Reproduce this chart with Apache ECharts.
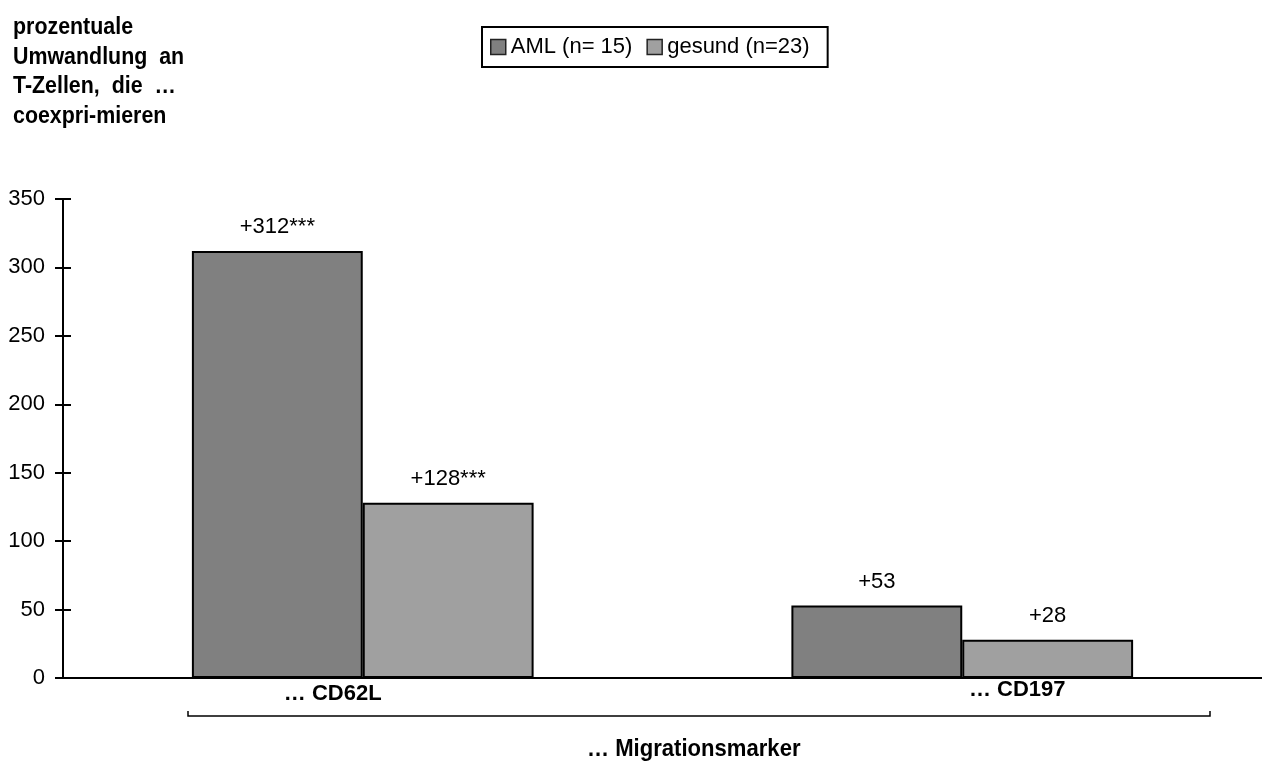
<!DOCTYPE html>
<html>
<head>
<meta charset="utf-8">
<script src="https://cdn.jsdelivr.net/npm/echarts@6/dist/echarts.min.js"></script>
<style>
  html, body { margin: 0; padding: 0; background: #fff; }
  #chart { width: 1262px; height: 763px; }
</style>
</head>
<body>
<div id="chart"></div>
<script>
// Daten
const categories = ["… CD62L", "… CD197"];
const amlValues = [312, 53];
const gesundValues = [128, 28];
const amlLabels = ["+312***", "+53"];
const gesundLabels = ["+128***", "+28"];
const seriesNames = ["AML (n= 15)", "gesund (n=23)"];

const sans = '"Liberation Sans", Arial, sans-serif';

const chart = echarts.init(document.getElementById("chart"));

function barSeries(name, values, labels, color) {
  return {
    name: name,
    type: "bar",
    data: values,
    barWidth: "28.5%",
    barGap: "0%",
    itemStyle: { color: color, borderColor: "#000", borderWidth: 2 },
    label: {
      show: true,
      position: "top",
      distance: 13,
      color: "#000",
      fontFamily: sans,
      fontSize: 22,
      formatter: p => labels[p.dataIndex]
    }
  };
}

const option = {
  animation: false,
  backgroundColor: "#fff",
  grid: { left: 63, right: 0, top: 199, bottom: 85 },
  legend: {
    left: 482,
    top: 27,
    icon: "rect",
    itemWidth: 15,
    itemHeight: 15,
    itemGap: 14,
    padding: [9, 18, 9, 8],
    borderColor: "#000",
    borderWidth: 2,
    textStyle: { color: "#000", fontFamily: sans, fontSize: 22 },
    data: seriesNames.map(n => ({ name: n, itemStyle: { borderColor: "#222", borderWidth: 1.5 } }))
  },
  xAxis: {
    type: "category",
    data: categories,
    axisLine: { lineStyle: { color: "#000", width: 2 } },
    axisTick: { show: false },
    axisLabel: {
      margin: 0,
      formatter: (v, i) => i === 0 ? "{a|" + v + "}" : "{b|" + v + "}",
      rich: {
        a: { fontFamily: sans, fontWeight: "bold", fontSize: 22, color: "#000", padding: [5, 60, 0, 0] },
        b: { fontFamily: sans, fontWeight: "bold", fontSize: 22, color: "#000", padding: [1, 0, 0, 110] }
      }
    }
  },
  yAxis: [
    {
      type: "value",
      min: 0,
      max: 350,
      interval: 50,
      splitLine: { show: false },
      axisLine: { show: true, lineStyle: { color: "#000", width: 2 } },
      axisTick: { show: true, length: 8, lineStyle: { color: "#000", width: 2 } },
      axisLabel: { color: "#000", fontFamily: sans, fontSize: 22, margin: 18 }
    },
    {
      type: "value",
      position: "left",
      min: 0,
      max: 350,
      interval: 50,
      splitLine: { show: false },
      axisLine: { show: false },
      axisTick: { show: true, inside: true, length: 8, lineStyle: { color: "#000", width: 2 } },
      axisLabel: { show: false }
    }
  ],
  series: [
    barSeries(seriesNames[0], amlValues, amlLabels, "#808080"),
    barSeries(seriesNames[1], gesundValues, gesundLabels, "#a0a0a0")
  ],
  graphic: [
    {
      type: "text",
      x: 13,
      y: 13,
      scaleX: 0.93,
      style: {
        text: "prozentuale\nUmwandlung  an\nT-Zellen,  die  …\ncoexpri-mieren",
        font: "bold 23px " + sans,
        lineHeight: 29.5,
        fill: "#000"
      }
    },
    {
      type: "polyline",
      shape: { points: [[188, 711], [188, 716], [1210, 716], [1210, 711]] },
      style: { stroke: "#000", lineWidth: 1.5, fill: null }
    },
    {
      type: "text",
      x: 587,
      y: 737,
      scaleX: 0.92,
      style: {
        text: "… Migrationsmarker",
        font: "bold 24px " + sans,
        fill: "#000"
      }
    }
  ]
};

chart.setOption(option);
</script>
</body>
</html>
